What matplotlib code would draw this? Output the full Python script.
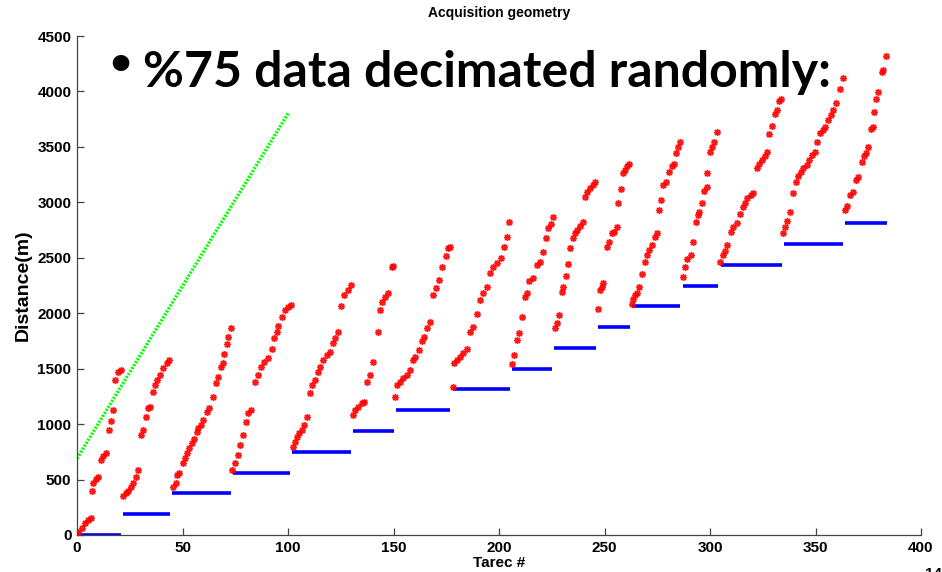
import matplotlib
matplotlib.use('Agg')
import matplotlib.pyplot as plt

# source (blue) segments per shot: trace range and source position
shot_start = [0, 22, 45, 74, 102, 131, 151, 178, 206, 226, 247, 263, 287, 305, 335, 364]
shot_end = [21, 44, 73, 101, 130, 150, 177, 205, 225, 246, 262, 286, 304, 334, 363, 384]
shot_pos = [0, 187.5, 375, 562.5, 750, 937.5, 1125, 1312.5, 1500, 1687.5,
            1875, 2062.5, 2250, 2437.5, 2625, 2812.5]

# full receiver line (green), end points only
green_x = [0, 100]
green_y = [690, 3800]

# kept receivers (red), one list per shot
red_x = [
    [0.0, 0.6, 2.2, 3.8, 5.4, 6.5, 7.0, 7.7, 9.0, 10.1, 11.2, 12.5, 13.7, 15.3, 16.1, 16.9, 18.0, 19.6, 20.7],
    [21.9, 23.2, 24.3, 25.6, 26.7, 28.0, 29.1, 30.2, 31.1, 32.7, 33.8, 34.6, 35.9, 37.0, 38.1, 39.3, 40.9, 42.5, 43.7],
    [45.7, 46.9, 47.5, 48.5, 50.1, 51.2, 52.3, 53.2, 54.4, 55.5, 56.7, 57.5, 58.6, 59.9, 61.5, 62.7, 64.6,
     65.9, 67.0, 68.2, 69.3, 69.7, 70.9, 71.7, 73.0],
    [73.6, 74.9, 76.2, 77.3, 78.8, 80.0, 81.2, 82.5, 84.4, 85.6, 87.2, 88.8, 90.4, 92.3, 93.5, 94.6, 95.4,
     97.0, 98.6, 100.1, 101.4],
    [102.5, 103.3, 104.1, 105.2, 106.5, 107.7, 108.9, 110.4, 111.5, 112.8, 114.1, 115.2, 116.7, 118.3,
     119.9, 121.5, 122.3, 123.8, 125.1, 126.7, 128.3, 129.9],
    [131.0, 131.8, 133.3, 134.9, 136.2, 137.3, 138.9, 140.4, 142.5, 143.6, 144.7, 146.0, 147.5, 149.1, 149.9],
    [150.7, 151.8, 153.1, 154.6, 156.2, 157.8, 159.1, 160.2, 162.2, 163.4, 164.5, 166.0, 167.3, 168.9,
     170.1, 171.7, 172.8, 174.9, 176.0, 176.8],
    [178.0, 178.7, 179.9, 181.5, 183.1, 185.0, 186.3, 187.5, 189.7, 191.0, 192.3, 194.2, 195.7, 197.3,
     198.9, 200.8, 202.4, 203.9, 204.9],
    [206.0, 207.1, 208.3, 209.6, 210.8, 212.3, 213.1, 214.4, 216.0, 217.9, 219.4, 220.7, 222.3, 223.4, 224.5, 225.7],
    [226.5, 227.6, 228.6, 229.7, 230.5, 231.8, 232.9, 233.6, 234.9, 236.0, 237.1, 238.4, 239.7, 240.8,
     241.9, 243.1, 244.4, 245.5],
    [246.8, 247.9, 248.6, 249.4, 251.0, 252.3, 253.4, 254.5, 255.8, 256.5, 257.7, 258.6, 259.7, 260.8, 261.8],
    [262.9, 263.6, 264.6, 265.5, 266.5, 267.6, 269.2, 270.3, 271.2, 272.3, 273.9, 275.0, 276.0, 276.6,
     277.9, 279.1, 280.7, 281.8, 282.9, 283.9, 285.0, 285.8],
    [287.1, 288.2, 289.3, 290.9, 291.8, 293.4, 294.5, 294.9, 296.0, 297.2, 298.4, 298.7, 300.0, 300.8, 301.9, 303.2],
    [304.7, 306.0, 307.1, 308.2, 309.8, 311.0, 312.6, 314.2, 315.5, 316.6, 317.7, 319.3, 320.5, 322.1,
     323.4, 324.5, 326.1, 326.9, 328.1, 329.2, 330.8, 331.6, 332.8, 333.5],
    [334.4, 335.5, 336.6, 337.9, 339.5, 340.8, 341.9, 343.0, 344.3, 345.9, 347.1, 348.3, 349.8, 350.9,
     352.1, 353.4, 354.5, 356.1, 357.2, 358.5, 359.7, 361.6, 362.9],
    [364.0, 365.1, 366.4, 367.6, 369.0, 370.1, 371.9, 373.0, 373.9, 375.0, 376.1, 377.1, 377.7, 378.5,
     379.8, 381.4, 382.1, 383.4],
]
red_y = [
    [5, 30, 60, 105, 135, 155, 397, 466, 505, 526, 676, 712, 742, 947, 1028, 1127, 1398, 1467, 1488],
    [354, 376, 400, 436, 472, 526, 586, 902, 947, 1061, 1142, 1157, 1292, 1353, 1398, 1443, 1503, 1548, 1578],
    [436, 466, 541, 562, 647, 692, 737, 782, 827, 863, 931, 962, 992, 1037, 1112, 1142, 1247,
     1373, 1427, 1518, 1548, 1629, 1719, 1788, 1866],
    [586, 647, 721, 812, 902, 1022, 1097, 1127, 1382, 1443, 1518, 1563, 1593, 1674, 1773, 1833, 1885,
     1963, 2029, 2059, 2074],
    [797, 842, 887, 923, 947, 992, 1067, 1278, 1353, 1398, 1473, 1518, 1578, 1623,
     1653, 1729, 1773, 1833, 2065, 2164, 2209, 2254],
    [1082, 1127, 1157, 1188, 1202, 1382, 1443, 1563, 1833, 2029, 2104, 2149, 2185, 2413, 2425],
    [1242, 1353, 1382, 1413, 1443, 1488, 1578, 1608, 1668, 1752, 1782, 1869, 1924, 2164,
     2224, 2299, 2419, 2516, 2585, 2600],
    [1332, 1548, 1578, 1608, 1638, 1674, 1833, 1878, 1990, 2119, 2179, 2239, 2365, 2413,
     2449, 2494, 2600, 2684, 2825],
    [1539, 1623, 1758, 1824, 1963, 2149, 2179, 2293, 2320, 2435, 2465, 2555, 2675, 2766, 2804, 2870],
    [1863, 1914, 1983, 2194, 2239, 2335, 2444, 2585, 2675, 2720, 2750, 2786, 2825, 3051,
     3096, 3126, 3156, 3186],
    [2035, 2209, 2239, 2275, 2597, 2645, 2720, 2735, 2780, 2993, 3119, 3261, 3291, 3327, 3345],
    [2083, 2125, 2164, 2185, 2239, 2350, 2465, 2525, 2570, 2615, 2690, 2726, 2931, 3021,
     3156, 3186, 3276, 3327, 3345, 3447, 3501, 3546],
    [2324, 2419, 2486, 2525, 2645, 2825, 2885, 2915, 2990, 3104, 3141, 3261, 3456, 3496, 3546, 3636],
    [2465, 2525, 2564, 2615, 2735, 2780, 2816, 2894, 2954, 2997, 3036, 3066, 3087, 3306,
     3345, 3381, 3418, 3456, 3613, 3688, 3796, 3832, 3916, 3928],
    [2726, 2780, 2834, 2915, 3081, 3186, 3237, 3276, 3306, 3336, 3381, 3426, 3456, 3546,
     3621, 3652, 3681, 3742, 3787, 3832, 3898, 4019, 4118],
    [2930, 2966, 3066, 3096, 3201, 3231, 3367, 3418, 3447, 3501, 3658, 3676, 3817, 3928,
     3997, 4178, 4193, 4319],
]

plt.rcParams['font.family'] = ['Liberation Sans', 'DejaVu Sans']

fig = plt.figure(figsize=(9.42, 5.72), dpi=100)
ax = fig.add_axes([77 / 942, 37 / 572, 844 / 942, 499 / 572])

ax.plot(green_x, green_y, color=(0, 1, 0), lw=2.4, linestyle=(0, (0.6, 0.45)), zorder=2)

for s, e, p in zip(shot_start, shot_end, shot_pos):
    ax.plot([s, e], [p, p], color=(0, 0, 1), lw=2.6, solid_capstyle='butt', zorder=2)

for xs, ys in zip(red_x, red_y):
    ax.plot(xs, ys, linestyle='none', marker=(8, 2, 0), ms=5, mew=1.0,
            color=(1, 0, 0), alpha=0.9, zorder=3)

ax.set_xlim(0, 400)
ax.set_ylim(0, 4500)
ax.set_xticks(range(0, 401, 50))
ax.set_yticks(range(0, 4501, 500))
ax.spines['top'].set_visible(False)
ax.spines['right'].set_visible(False)
for sp in ('left', 'bottom'):
    ax.spines[sp].set_color('#444444')
    ax.spines[sp].set_linewidth(0.9)
ax.tick_params(direction='in', length=5, width=0.9, color='#444444', pad=4)
for lab in ax.get_xticklabels() + ax.get_yticklabels():
    lab.set_fontsize(11)
    lab.set_fontweight('bold')

ax.set_title('Acquisition geometry', fontsize=10, fontweight='bold', pad=14)
ax.set_xlabel('Tarec #', fontsize=11, fontweight='bold', labelpad=1)
ax.set_ylabel('Distance(m)', fontsize=14, fontweight='bold', labelpad=4)

# slide bullet overlay
fig.text(105 / 942, 1 - 80 / 572, '\u2022', fontsize=34, fontweight='bold',
         family=['DejaVu Sans'], va='baseline', ha='left', zorder=10)
fig.text(143 / 942, 1 - 87 / 572, '%75 data decimated randomly:',
         fontsize=36, fontweight='bold', family=['Lato', 'DejaVu Sans'],
         va='baseline', ha='left', zorder=10)

fig.text(925 / 942, 1 - 567 / 572, '14', fontsize=11, fontweight='bold',
         va='top', ha='left')

fig.savefig('out.png', dpi=100)
